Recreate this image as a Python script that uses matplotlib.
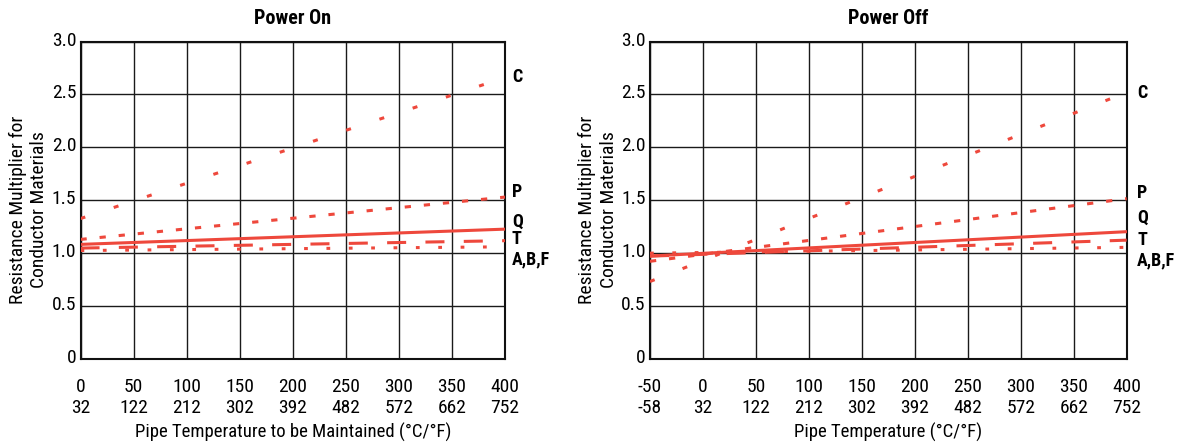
import matplotlib
matplotlib.use('Agg')
import matplotlib.pyplot as plt
from matplotlib import font_manager
from matplotlib.transforms import ScaledTranslation

# pick a narrow sans face if one is installed
fonts = font_manager.fontManager.ttflist
avail = {f.name for f in fonts}
stretch = 'normal'
family = 'Roboto'
for cand in ['Roboto Condensed', 'Liberation Sans Narrow', 'Open Sans Condensed']:
    if cand in avail:
        family = cand
        break
else:
    if any(f.name == 'DejaVu Sans' and 'Condensed' in f.fname for f in fonts):
        family, stretch = 'DejaVu Sans', 'condensed'

plt.rcParams['font.family'] = [family, 'DejaVu Sans']
plt.rcParams['font.stretch'] = stretch
plt.rcParams['lines.scale_dashes'] = False

red = '#EE483C'

# Power On - pipe temperature to be maintained (deg C), end points of each straight line
on_temp = [0, 400]
on_C = [1.327, 2.66]
on_P = [1.13, 1.53]
on_Q = [1.083, 1.227]
on_T = [1.048, 1.118]
on_ABF = [1.025, 1.06]

# Power Off - pipe temperature (deg C)
off_temp = [-50, 400]
off_C = [0.732, 2.52]
off_P = [0.923, 1.515]
off_Q = [0.973, 1.203]
off_T = [0.972, 1.123]
off_ABF = [1.0, 1.055]

on_ticks_c = [0, 50, 100, 150, 200, 250, 300, 350, 400]
on_ticks_f = [32, 122, 212, 302, 392, 482, 572, 662, 752]
off_ticks_c = [-50, 0, 50, 100, 150, 200, 250, 300, 350, 400]
off_ticks_f = [-58, 32, 122, 212, 302, 392, 482, 572, 662, 752]

y_ticks = [0, 0.5, 1.0, 1.5, 2.0, 2.5, 3.0]
y_labels = ['0', '0.5', '1.0', '1.5', '2.0', '2.5', '3.0']

names = ['C', 'P', 'Q', 'T', 'A,B,F']
on_label_y = [2.66, 1.58, 1.30, 1.13, 0.945]
off_label_y = [2.51, 1.57, 1.33, 1.125, 0.935]

styles = {
    'C': (0, (3.6, 21.6)),
    'P': (0, (4.5, 9.3)),
    'Q': '-',
    'T': (0, (13.7, 13.9)),
    'A,B,F': (0, (2.7, 13.4)),
}

fig = plt.figure(figsize=(11.83, 4.45), dpi=100)
W, H = 1183, 445
ax1 = fig.add_axes([80.5 / W, 86 / H, 424.5 / W, 317.5 / H])
ax2 = fig.add_axes([650 / W, 86 / H, 476.7 / W, 317.5 / H])

panels = [
    (ax1, 'Power On', 'Pipe Temperature to be Maintained (°C/°F)', on_temp,
     [on_C, on_P, on_Q, on_T, on_ABF], on_ticks_c, on_ticks_f, on_label_y, 5),
    (ax2, 'Power Off', 'Pipe Temperature (°C/°F)', off_temp,
     [off_C, off_P, off_Q, off_T, off_ABF], off_ticks_c, off_ticks_f, off_label_y, 7.5),
]

for ax, title, xlabel, temp, series, tc, tf, label_y, lab_off in panels:
    for name, vals in zip(names, series):
        ax.plot(temp, vals, color=red, lw=2.2, linestyle=styles[name], zorder=3)

    ax.set_xlim(temp[0], temp[-1])
    ax.set_ylim(0, 3)
    ax.set_xticks(tc, [f'{c}\n{f}' for c, f in zip(tc, tf)])
    ax.set_yticks(y_ticks, y_labels)
    ax.tick_params(axis='x', length=0, pad=13.5, labelsize=14)
    ax.tick_params(axis='y', length=0, pad=3, labelsize=14)
    for lab in ax.get_yticklabels():
        lab.set_transform(lab.get_transform() + ScaledTranslation(0, 3 / 100, fig.dpi_scale_trans))

    ax.grid(True, color='#1a1a1a', lw=1.0)
    ax.set_axisbelow(True)
    for sp in ax.spines.values():
        sp.set_linewidth(1.5)
        sp.set_color('#111111')

    ax.set_xlabel(xlabel, fontsize=13.5, va='center')
    ax.xaxis.set_label_coords(0.5, -(432 - 359) / 317.5)
    ax.text(0.5, 1 + (41.5 - 18.5) / 317.5, title, transform=ax.transAxes,
            ha='center', va='center', fontsize=14.5, fontweight='bold')
    ax.text(-52 / (ax.get_position().width * W), 0.47,
            'Resistance Multiplier for\nConductor Materials', transform=ax.transAxes,
            rotation=90, ha='center', va='center', fontsize=14, linespacing=1.25)

    for name, ly in zip(names, label_y):
        ax.annotate(name, xy=(1, ly), xycoords=('axes fraction', 'data'),
                    xytext=(lab_off, 0), textcoords='offset points',
                    ha='left', va='center', fontsize=13, fontweight='bold')

fig.savefig('out.png', dpi=100)
